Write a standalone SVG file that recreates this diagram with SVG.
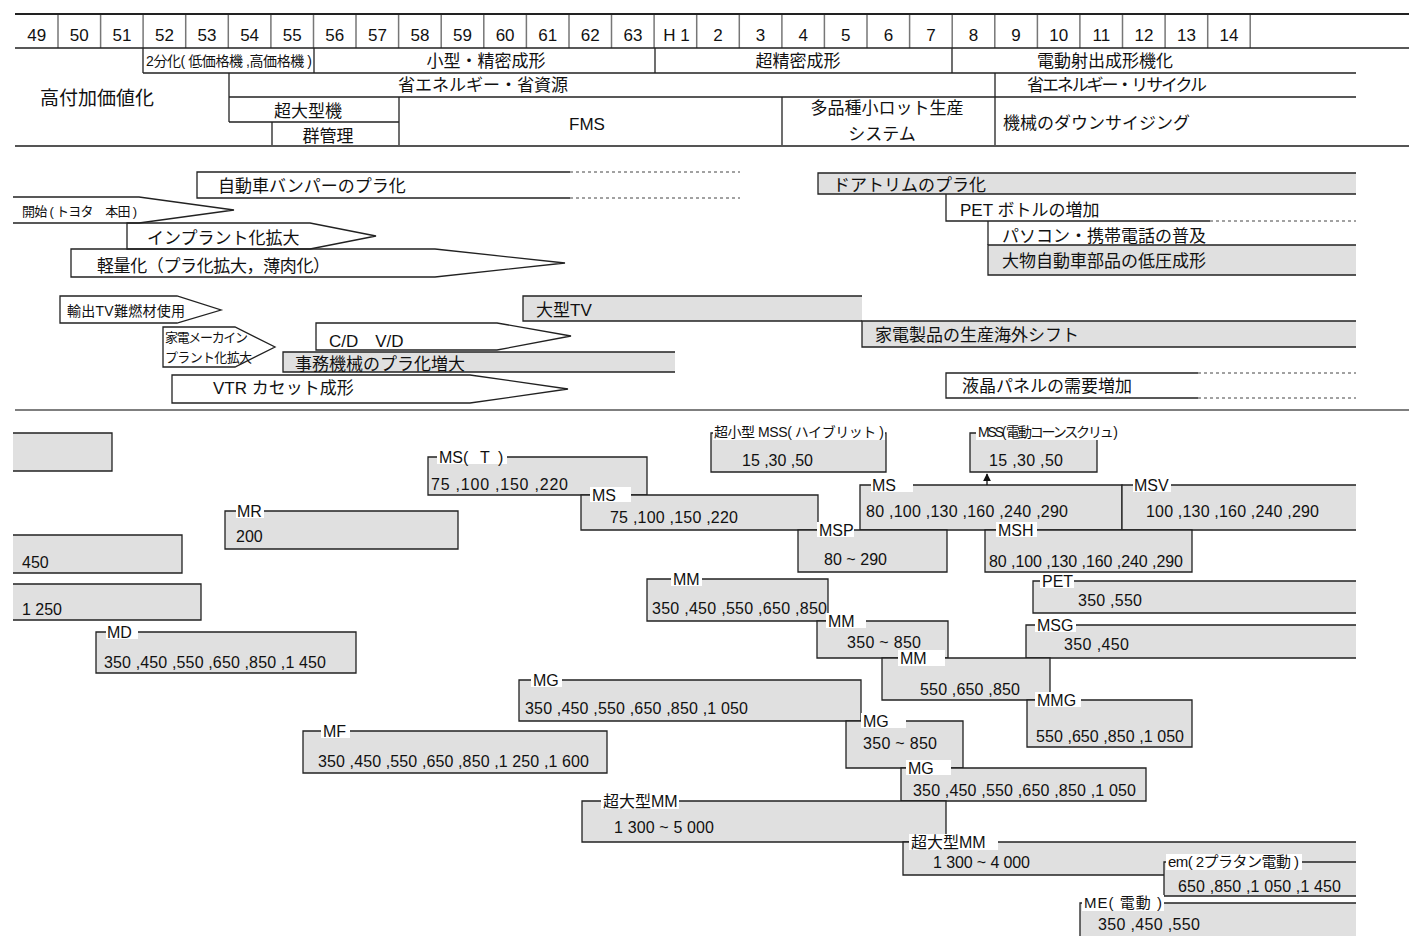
<svg xmlns="http://www.w3.org/2000/svg" width="1409" height="936" viewBox="0 0 1409 936">
<style>
text{font-family:'Liberation Sans','Noto Sans CJK JP',sans-serif;fill:#111}
.y{font-size:17px;text-anchor:middle}
.h{font-size:17px}
.c{text-anchor:middle}
.m{font-size:17px}
.s{font-size:13px}
.lb{font-size:16px}
.v{font-size:16px}
.g{fill:#e0e0e0}
.w{fill:#fff}
.ln{fill:none;stroke:#222;stroke-width:1.3}
.gl{fill:none;stroke:#777;stroke-width:1.5}
.ds{fill:none;stroke:#444;stroke-width:1;stroke-dasharray:3 3}
</style>
<defs>
<marker id="ah" viewBox="0 0 10 10" refX="9" refY="5" markerWidth="6" markerHeight="6" orient="auto"><path d="M0,0L10,5L0,10Z" fill="#111"/></marker>
</defs>
<rect x="0" y="0" width="1409" height="936" fill="#fff"/>

<g id="header">
<path class="gl" d="M58,14V48M100.6,14V48M143.1,14V48M185.7,14V48M228.3,14V48M270.9,14V48M313.5,14V48M356,14V48M398.6,14V48M441.2,14V48M483.8,14V48M526.4,14V48M569,14V48M611.5,14V48M654.1,14V48M696.7,14V48M739.3,14V48M781.9,14V48M824.4,14V48M867,14V48M909.6,14V48M952.2,14V48M994.8,14V48M1037.4,14V48M1079.9,14V48M1122.5,14V48M1165.1,14V48M1207.7,14V48M1250.2,14V48"/>
<path fill="none" stroke="#222" stroke-width="2" d="M15,14H1409"/>
<path class="ln" d="M15,48H1409M143,73H1356M229,97H1356M229,122H399M143,48V73M314,48V73M655,48V73M952,48V73M229,73V122M272,122V146M399,97V146M782,97V146M995,73V146"/>
<path fill="none" stroke="#555" stroke-width="1.8" d="M15,146H1409"/>
<text class="y" x="36.7" y="41">49</text><text class="y" x="79.3" y="41">50</text><text class="y" x="121.9" y="41">51</text><text class="y" x="164.4" y="41">52</text><text class="y" x="207" y="41">53</text><text class="y" x="249.6" y="41">54</text><text class="y" x="292.2" y="41">55</text><text class="y" x="334.8" y="41">56</text><text class="y" x="377.4" y="41">57</text><text class="y" x="419.9" y="41">58</text><text class="y" x="462.5" y="41">59</text><text class="y" x="505.1" y="41">60</text><text class="y" x="547.7" y="41">61</text><text class="y" x="590.3" y="41">62</text><text class="y" x="632.9" y="41">63</text><text class="y" x="676.4" y="41">H 1</text><text class="y" x="718" y="41">2</text><text class="y" x="760.6" y="41">3</text><text class="y" x="803.2" y="41">4</text><text class="y" x="845.8" y="41">5</text><text class="y" x="888.4" y="41">6</text><text class="y" x="930.9" y="41">7</text><text class="y" x="973.5" y="41">8</text><text class="y" x="1016.1" y="41">9</text><text class="y" x="1058.7" y="41">10</text><text class="y" x="1101.3" y="41">11</text><text class="y" x="1143.9" y="41">12</text><text class="y" x="1186.5" y="41">13</text><text class="y" x="1229" y="41">14</text>
<text x="146" y="66" font-size="14" textLength="166">2分化( 低価格機 ,高価格機 )</text>
<text class="h c" x="486" y="67">小型・精密成形</text>
<text class="h c" x="798" y="67">超精密成形</text>
<text class="h c" x="1105" y="67">電動射出成形機化</text>
<text class="c" x="97" y="105" font-size="19">高付加価値化</text>
<text class="h c" x="483" y="91">省エネルギー・省資源</text>
<text class="h" x="1027" y="91" textLength="180">省エネルギー・リサイクル</text>
<text class="h c" x="308" y="117">超大型機</text>
<text class="h c" x="328" y="142">群管理</text>
<text class="h c" x="587" y="130">FMS</text>
<text class="h c" x="887" y="114">多品種小ロット生産</text>
<text class="h c" x="882" y="140">システム</text>
<text class="h" x="1003" y="129">機械のダウンサイジング</text>
</g>

<g id="trends">
<g id="bumper"><path class="ln" d="M570,172H197V198H570"/><path class="ds" d="M570,172H740M570,198H740"/><text class="m" x="218" y="192">自動車バンパーのプラ化</text></g>
<g id="start"><path class="ln" fill="#fff" d="M13,197H139L234,210L139,223H13"/><text class="s" x="22" y="216" textLength="115">開始 ( トヨタ　本田 )</text></g>
<g id="inplant"><path class="ln" d="M310,223H127V249H310L376,236Z"/><text class="m" x="147" y="244">インプラント化拡大</text></g>
<g id="light"><path class="ln" d="M435,249H71V277H435L565,263Z"/><text class="m" x="97" y="272" textLength="233">軽量化（プラ化拡大，薄肉化）</text></g>
<g id="exporttv"><path class="ln g" d="M60,296H177L221,310L177,323H60Z"/><text x="67" y="316" font-size="14" textLength="118">輸出TV難燃材使用</text></g>
<g id="kaden"><path class="ln g" d="M163,327H235L275,347L235,367H163Z"/><text x="165" y="342" font-size="13" textLength="83">家電メーカイン</text><text x="165" y="362" font-size="13" textLength="87">プラント化拡大</text></g>
<g id="cdvd"><path class="ln" fill="#fff" d="M316,323H497L571,336L497,350H316Z"/><text class="m" x="329" y="347">C/D　V/D</text></g>
<g id="office"><rect class="g" x="283" y="352" width="392" height="20"/><path class="ln" d="M675,352H283V372H675"/><text class="m" x="295" y="370">事務機械のプラ化増大</text></g>
<g id="vtr"><path class="ln" fill="#fff" d="M470,375H172V403H470L568,389Z"/><text class="m" x="213" y="394">VTR カセット成形</text></g>
<g id="bigtv"><rect class="g" x="523" y="296" width="339" height="25"/><path class="ln" d="M862,296H523V321H862"/><text class="m" x="536" y="316">大型TV</text></g>
<g id="overseas"><rect class="g" x="862" y="321" width="494" height="26"/><path class="ln" d="M1356,321H862V347H1356"/><text class="m" x="875" y="341">家電製品の生産海外シフト</text></g>
<g id="door"><rect class="g" x="818" y="173" width="538" height="21"/><path class="ln" d="M1356,173H818V194H1356"/><text class="m" x="833" y="191">ドアトリムのプラ化</text></g>
<g id="petbottle"><path class="ln" d="M946,194V221H1210"/><path class="ds" d="M1210,221H1356"/><text class="m" x="960" y="216">PET ボトルの増加</text></g>
<g id="pc"><path class="ln" d="M988,221V245"/><text class="m" x="1002" y="242">パソコン・携帯電話の普及</text></g>
<g id="lowpress"><rect class="g" x="988" y="245" width="368" height="30"/><path class="ln" d="M1356,245H988V275H1356"/><text class="m" x="1002" y="267">大物自動車部品の低圧成形</text></g>
<g id="lcd"><path class="ln" d="M1198,373H946V398H1198"/><path class="ds" d="M1198,373H1356M1198,398H1356"/><text class="m" x="962" y="392">液晶パネルの需要増加</text></g>
<path fill="none" stroke="#555" stroke-width="1.5" d="M15,410H1409"/>
</g>

<g id="machines">
<g id="m-a"><rect class="g" x="13" y="433" width="99" height="38"/><path class="ln" d="M13,433H112V471H13"/></g>
<g id="m-450"><rect class="g" x="13" y="535" width="169" height="38"/><path class="ln" d="M13,535H182V573H13"/><text class="v" x="22" y="568">450</text></g>
<g id="m-1250"><rect class="g" x="13" y="584" width="188" height="36"/><path class="ln" d="M13,584H201V620H13"/><text class="v" x="22" y="615" textLength="40">1 250</text></g>
<g id="m-md"><rect class="g" x="96" y="632" width="260" height="41"/><path class="ln" d="M96,632H356V673H96Z"/><rect class="w" x="106" y="624" width="32" height="15"/><text class="lb" x="107" y="638">MD</text><text class="v" x="104" y="668" textLength="222">350 ,450 ,550 ,650 ,850 ,1 450</text></g>
<g id="m-mr"><rect class="g" x="225" y="511" width="233" height="38"/><path class="ln" d="M225,511H458V549H225Z"/><rect class="w" x="236" y="503" width="28" height="15"/><text class="lb" x="237" y="517">MR</text><text class="v" x="236" y="542">200</text></g>
<g id="m-mst"><rect class="g" x="428" y="457" width="219" height="38"/><path class="ln" d="M428,457H647V495H428Z"/><rect class="w" x="437" y="449" width="70" height="15"/><text class="lb" x="439" y="463">MS(<tspan x="480">T</tspan><tspan x="498">)</tspan></text><text class="v" x="431" y="490" textLength="137">75 ,100 ,150 ,220</text></g>
<g id="m-ms1"><rect class="g" x="581" y="495" width="237" height="35"/><path class="ln" d="M581,495H818V530H581Z"/><rect class="w" x="590" y="487" width="41" height="15"/><text class="lb" x="592" y="501">MS</text><text class="v" x="610" y="523" textLength="128">75 ,100 ,150 ,220</text></g>
<g id="m-mss-h"><rect class="g" x="711" y="433" width="175" height="39"/><path class="ln" d="M711,433H886V472H711Z"/><rect class="w" x="713" y="424" width="172" height="16"/><text x="714" y="437" font-size="14" textLength="170">超小型 MSS( ハイブリット )</text><text class="v" x="742" y="466" textLength="71">15 ,30 ,50</text></g>
<g id="m-mss-e"><rect class="g" x="970" y="433" width="127" height="39"/><path class="ln" d="M970,433H1097V472H970Z"/><rect class="w" x="976" y="424" width="144" height="16"/><text x="978" y="437" font-size="14" textLength="140">MSS( 電動コーンスクリュ )</text><text class="v" x="989" y="466" textLength="74">15 ,30 ,50</text></g>
<g id="m-ms2"><rect class="g" x="860" y="485" width="262" height="45"/><path class="ln" d="M860,485H1122V530H860Z"/><rect class="w" x="871" y="477" width="42" height="15"/><text class="lb" x="872" y="491">MS</text><text class="v" x="866" y="517" textLength="202">80 ,100 ,130 ,160 ,240 ,290</text></g>
<g id="m-msv"><rect class="g" x="1122" y="485" width="234" height="45"/><path class="ln" d="M1356,485H1122V530H1356"/><rect class="w" x="1133" y="477" width="38" height="15"/><text class="lb" x="1134" y="491">MSV</text><text class="v" x="1146" y="517" textLength="173">100 ,130 ,160 ,240 ,290</text></g>
<g id="m-msp"><rect class="g" x="798" y="530" width="149" height="42"/><path class="ln" d="M798,530H947V572H798Z"/><rect class="w" x="817" y="522" width="37" height="15"/><text class="lb" x="819" y="536">MSP</text><text class="v" x="824" y="565" textLength="63">80 ~ 290</text></g>
<g id="m-msh"><rect class="g" x="985" y="530" width="207" height="42"/><path class="ln" d="M985,530H1192V572H985Z"/><rect class="w" x="996" y="522" width="41" height="15"/><text class="lb" x="998" y="536">MSH</text><text class="v" x="989" y="567" textLength="194">80 ,100 ,130 ,160 ,240 ,290</text></g>
<g id="m-pet"><rect class="g" x="1033" y="581" width="323" height="32"/><path class="ln" d="M1356,581H1033V613H1356"/><rect class="w" x="1040" y="573" width="34" height="15"/><text class="lb" x="1042" y="587">PET</text><text class="v" x="1078" y="606" textLength="64">350 ,550</text></g>
<g id="m-msg"><rect class="g" x="1026" y="625" width="330" height="33"/><path class="ln" d="M1356,625H1026V658H1356"/><rect class="w" x="1035" y="617" width="41" height="15"/><text class="lb" x="1037" y="631">MSG</text><text class="v" x="1064" y="650" textLength="65">350 ,450</text></g>
<g id="m-mm1"><rect class="g" x="647" y="579" width="181" height="42"/><path class="ln" d="M647,579H828V621H647Z"/><rect class="w" x="671" y="571" width="31" height="15"/><text class="lb" x="673" y="585">MM</text><text class="v" x="652" y="614" textLength="175">350 ,450 ,550 ,650 ,850</text></g>
<g id="m-mm2"><rect class="g" x="817" y="621" width="131" height="37"/><path class="ln" d="M817,621H948V658H817Z"/><rect class="w" x="826" y="613" width="40" height="15"/><text class="lb" x="828" y="627">MM</text><text class="v" x="847" y="648" textLength="74">350 ~ 850</text></g>
<g id="m-mm3"><rect class="g" x="882" y="658" width="168" height="42"/><path class="ln" d="M882,658H1050V700H882Z"/><rect class="w" x="898" y="650" width="47" height="16"/><text class="lb" x="900" y="664">MM</text><text class="v" x="920" y="695" textLength="100">550 ,650 ,850</text></g>
<g id="m-mmg"><rect class="g" x="1027" y="700" width="165" height="47"/><path class="ln" d="M1027,700H1192V747H1027Z"/><rect class="w" x="1035" y="692" width="46" height="15"/><text class="lb" x="1037" y="706">MMG</text><text class="v" x="1036" y="742" textLength="148">550 ,650 ,850 ,1 050</text></g>
<g id="m-mg1"><rect class="g" x="519" y="680" width="342" height="41"/><path class="ln" d="M519,680H861V721H519Z"/><rect class="w" x="531" y="672" width="31" height="15"/><text class="lb" x="533" y="686">MG</text><text class="v" x="525" y="714" textLength="223">350 ,450 ,550 ,650 ,850 ,1 050</text></g>
<g id="m-mf"><rect class="g" x="303" y="731" width="304" height="42"/><path class="ln" d="M303,731H607V773H303Z"/><rect class="w" x="321" y="723" width="29" height="15"/><text class="lb" x="323" y="737">MF</text><text class="v" x="318" y="767" textLength="271">350 ,450 ,550 ,650 ,850 ,1 250 ,1 600</text></g>
<g id="m-mg2"><rect class="g" x="846" y="721" width="117" height="47"/><path class="ln" d="M846,721H963V768H846Z"/><rect class="w" x="861" y="713" width="45" height="15"/><text class="lb" x="863" y="727">MG</text><text class="v" x="863" y="749" textLength="74">350 ~ 850</text></g>
<g id="m-mg3"><rect class="g" x="901" y="768" width="245" height="33"/><path class="ln" d="M901,768H1146V801H901Z"/><rect class="w" x="906" y="760" width="45" height="15"/><text class="lb" x="908" y="774">MG</text><text class="v" x="913" y="796" textLength="223">350 ,450 ,550 ,650 ,850 ,1 050</text></g>
<g id="m-xmm1"><rect class="g" x="582" y="801" width="364" height="41"/><path class="ln" d="M582,801H946V842H582Z"/><rect class="w" x="601" y="793" width="78" height="16"/><text class="lb" x="603" y="807">超大型MM</text><text class="v" x="614" y="833" textLength="100">1 300 ~ 5 000</text></g>
<g id="m-xmm2"><rect class="g" x="903" y="842" width="453" height="33"/><path class="ln" d="M1356,842H903V875H1356"/><rect class="w" x="909" y="834" width="89" height="16"/><text class="lb" x="911" y="848">超大型MM</text><text class="v" x="933" y="868" textLength="97">1 300 ~ 4 000</text></g>
<g id="m-em"><rect class="g" x="1164" y="862" width="192" height="34"/><path class="ln" d="M1356,862H1164V896H1356"/><rect class="w" x="1166" y="854" width="136" height="16"/><text x="1168" y="867" font-size="15" textLength="131">em( 2プラタン電動 )</text><text class="v" x="1178" y="892" textLength="163">650 ,850 ,1 050 ,1 450</text></g>
<g id="m-me"><rect class="g" x="1080" y="903" width="276" height="40"/><path class="ln" d="M1356,903H1080V936"/><rect class="w" x="1082" y="895" width="82" height="16"/><text x="1084" y="908" font-size="15" textLength="78">ME( 電動 )</text><text class="v" x="1098" y="930" textLength="102">350 ,450 ,550</text></g>
</g>

<g id="connectors">
<path d="M987,485V474" stroke="#111" stroke-width="1.3" fill="none" marker-end="url(#ah)"/>
</g>
</svg>
